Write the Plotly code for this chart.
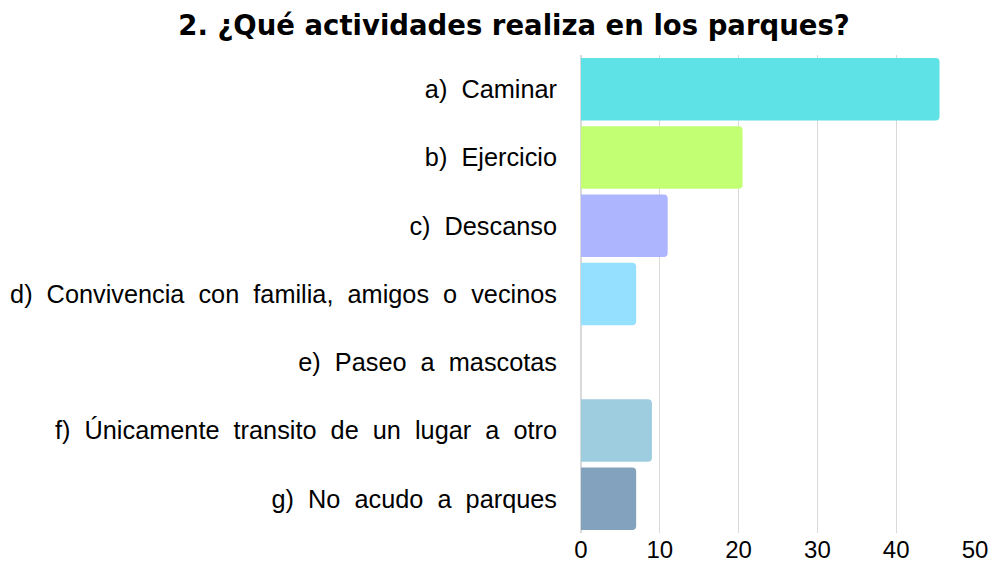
import plotly.graph_objects as go

# Respuestas a la pregunta 2
categorias = [
    "a)  Caminar",
    "b)  Ejercicio",
    "c)  Descanso",
    "d)  Convivencia  con  familia,  amigos  o  vecinos",
    "e)  Paseo  a  mascotas",
    "f)  Únicamente  transito  de  un  lugar  a  otro",
    "g)  No  acudo  a  parques",
]
valores = [45.5, 20.5, 11, 7, 0, 9, 7]
colores = ["#5ee2e6", "#c3ff73", "#adb5ff", "#95dfff", "#f3c1f0", "#9fcde0", "#82a2be"]
ticks_x = [0, 10, 20, 30, 40, 50]

fig = go.Figure()
fig.add_trace(go.Bar(
    x=valores,
    y=categorias,
    orientation="h",
    marker=dict(color=colores, line=dict(width=0)),
    hoverinfo="x+y",
))

fig.update_layout(
    width=992,
    height=565,
    paper_bgcolor="white",
    plot_bgcolor="white",
    showlegend=False,
    bargap=0.085,
    barcornerradius=4,
    margin=dict(l=581, r=17, t=55, b=32),
    title=dict(
        text="2. ¿Qué actividades realiza en los parques?",
        font=dict(family="DejaVu Sans", size=27.5, color="black", weight="bold"),
        x=514 / 992, xanchor="center", xref="container",
        y=1 - 25 / 565, yanchor="middle", yref="container",
    ),
    font=dict(family="Liberation Sans, Arial", color="black"),
)

fig.update_xaxes(
    range=[0, 50],
    tickvals=ticks_x,
    automargin=False,
    showgrid=True,
    gridcolor="#d9d9d9",
    gridwidth=1,
    zeroline=True,
    zerolinecolor="#d9d9d9",
    showline=False,
    tickfont=dict(size=24, color="black"),
    ticks="",
    fixedrange=True,
)
fig.update_yaxes(
    autorange="reversed",
    automargin=False,
    showgrid=False,
    showline=False,
    ticks="",
    ticklabelstandoff=23,
    tickfont=dict(size=25.3, color="black"),
    fixedrange=True,
)

# drop the default body margin so the figure fills the window exactly
fig.write_html(
    "out.html",
    config={"displayModeBar": False},
    post_script="document.body.style.margin = '0';",
)
